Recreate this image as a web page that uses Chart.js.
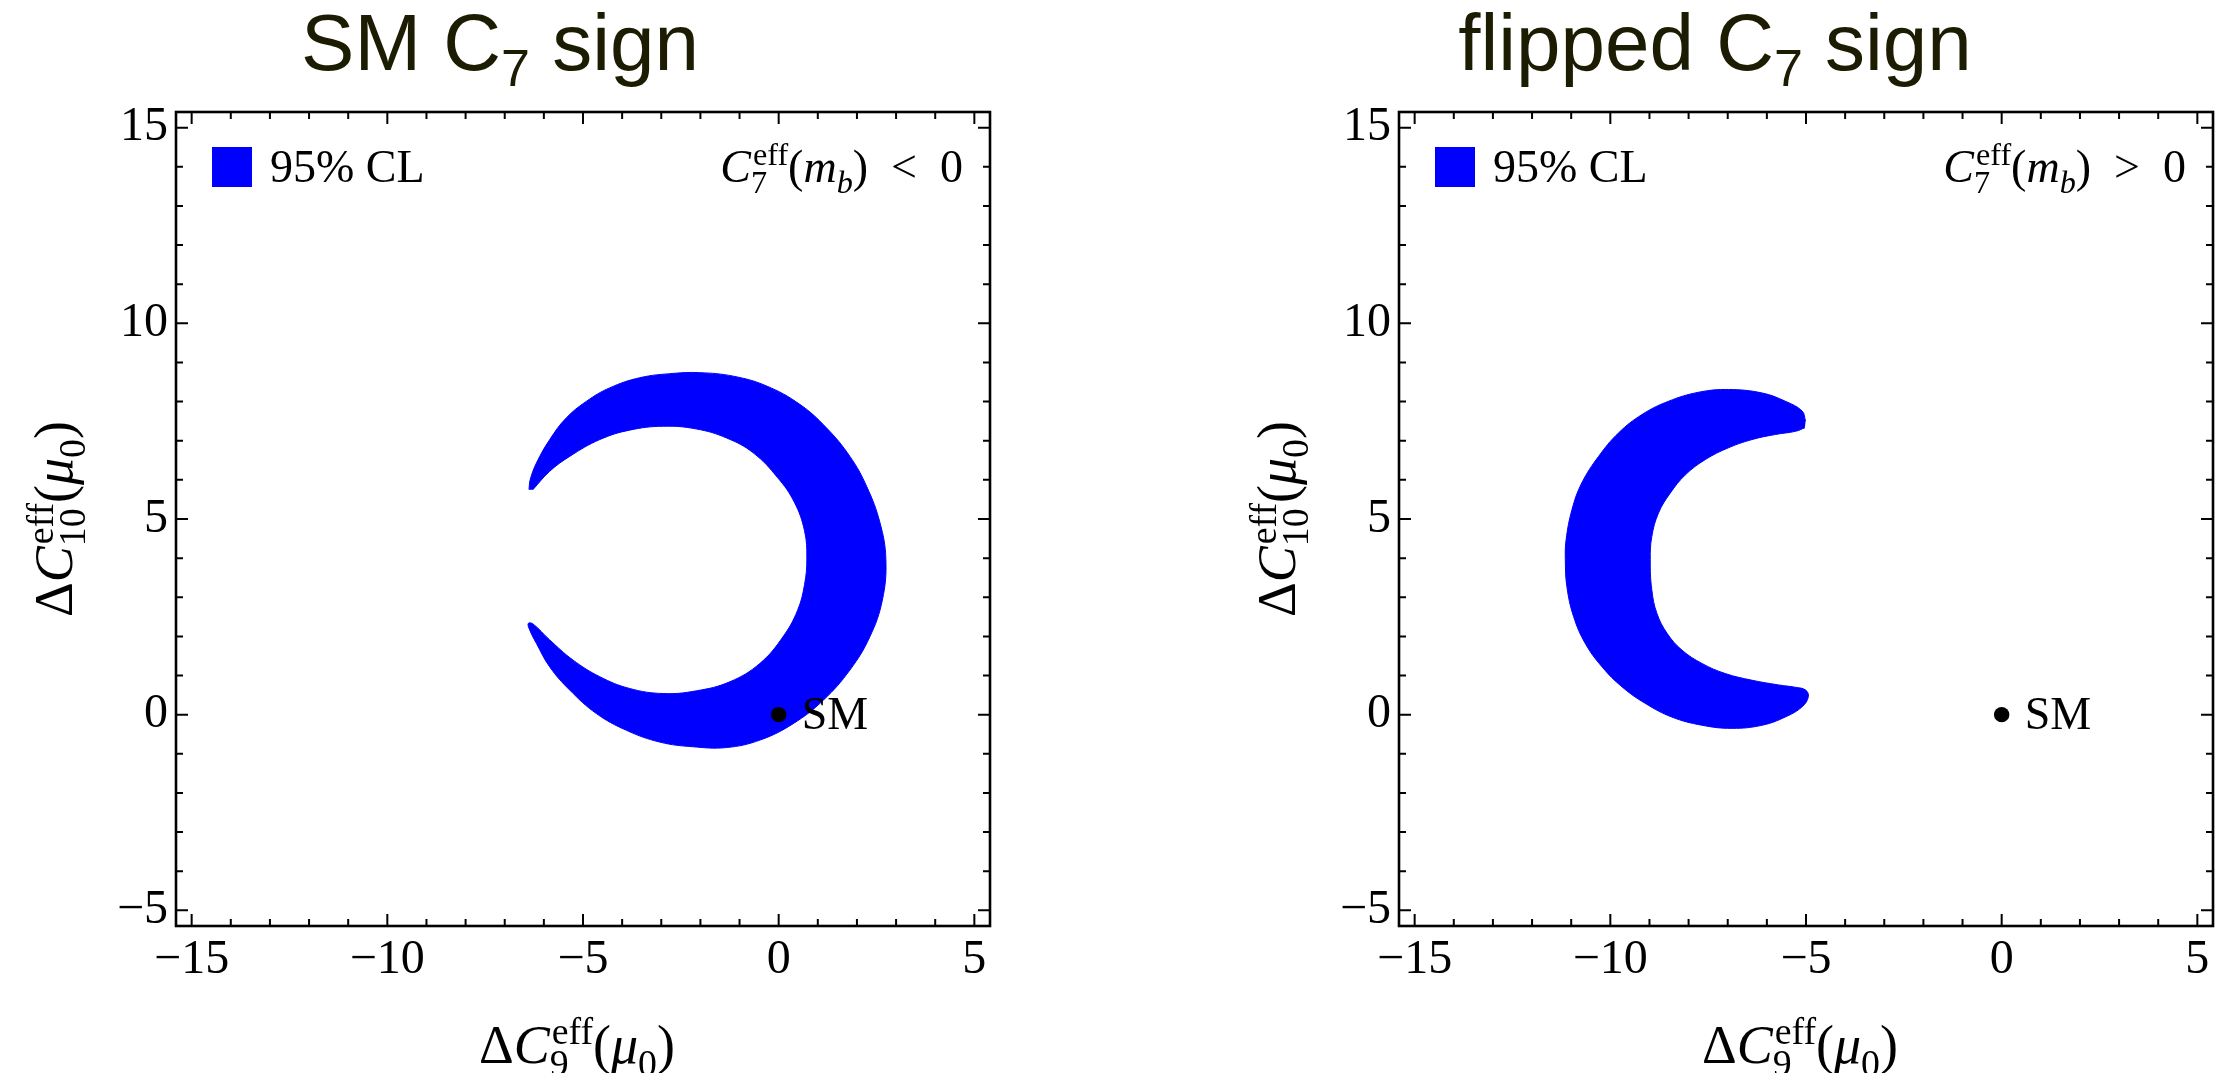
<!DOCTYPE html>
<html>
<head>
<meta charset="utf-8">
<script src="https://cdn.jsdelivr.net/npm/chart.js@4.4.0/dist/chart.umd.min.js"></script>
<style>
  html, body { margin: 0; padding: 0; background: #fff; }
  #wrap { position: relative; width: 2231px; height: 1073px; }
  .panel { position: absolute; top: 0; height: 1073px; }
  #left { left: 0; width: 1115px; }
  #right { left: 1115px; width: 1116px; }
</style>
</head>
<body>
<div id="wrap">
  <div class="panel" id="left"><canvas id="smChart"></canvas></div>
  <div class="panel" id="right"><canvas id="flipChart"></canvas></div>
</div>
<script>
// axis ranges and tick labels
const xRange = [-15.4, 5.4];
const yRange = [-5.4, 15.4];
const xTicks = [-15, -10, -5, 0, 5];
const yTicks = [-5, 0, 5, 10, 15];

// Standard Model point
const smPoint = [{ x: 0, y: 0 }];

// 95% CL region, SM sign of C7 (outer edge, then inner edge back)
const smRegionX = [-6.38, -6.35, -6.19, -5.85, -5.43, -4.91, -4.32, -3.55, -2.70, -2.02, -1.16, -0.31, 0.54, 1.22, 1.82, 2.25, 2.59, 2.74, 2.65, 2.33, 1.82, 1.14, 0.37, -0.48, -1.33, -2.19, -3.04, -3.89, -4.66, -5.34, -5.85, -6.19, -6.36, -6.40,
  -6.28, -5.85, -5.26, -4.57, -3.81, -2.95, -2.10, -1.25, -0.48, 0.11, 0.48, 0.66, 0.72, 0.66, 0.40, -0.03, -0.65, -1.33, -2.10, -2.95, -3.81, -4.57, -5.34, -5.85, -6.28];
const smRegionY = [5.75, 6.00, 6.43, 7.03, 7.58, 8.01, 8.35, 8.61, 8.72, 8.74, 8.65, 8.40, 7.93, 7.33, 6.60, 5.83, 4.90, 3.96, 2.93, 1.99, 1.14, 0.37, -0.23, -0.65, -0.84, -0.82, -0.70, -0.40, 0.03, 0.63, 1.22, 1.82, 2.16, 2.33,
  2.32, 1.91, 1.40, 0.97, 0.67, 0.54, 0.61, 0.84, 1.31, 1.99, 2.66, 3.32, 4.00, 4.70, 5.43, 6.06, 6.69, 7.07, 7.30, 7.37, 7.27, 7.03, 6.60, 6.22, 5.75];

// 95% CL region, flipped sign of C7
const flipRegionX = [-5.01, -5.10, -5.53, -6.12, -6.98, -7.74, -8.51, -9.19, -9.79, -10.30, -10.73, -10.98, -11.13, -11.15, -11.11, -10.94, -10.64, -10.21, -9.70, -9.11, -8.43, -7.66, -6.89, -6.12, -5.53, -5.10, -4.94,
  -5.01, -5.27, -5.70, -6.38, -7.06, -7.66, -8.17, -8.55, -8.81, -8.94, -8.98, -8.94, -8.77, -8.47, -8.08, -7.57, -6.98, -6.38, -5.78, -5.27, -5.03];
const flipRegionY = [7.50, 7.76, 8.01, 8.22, 8.31, 8.24, 8.01, 7.67, 7.20, 6.60, 5.92, 5.24, 4.47, 3.96, 3.27, 2.51, 1.82, 1.22, 0.71, 0.29, -0.06, -0.27, -0.35, -0.27, -0.06, 0.20, 0.46,
  0.63, 0.70, 0.76, 0.88, 1.05, 1.31, 1.65, 2.08, 2.59, 3.19, 3.96, 4.55, 5.15, 5.66, 6.13, 6.52, 6.82, 7.03, 7.16, 7.24, 7.33];

const BLUE = '#0000ff';
const SERIF = '"Liberation Serif", "Times New Roman", serif';
const SANS = '"Liberation Sans", Arial, sans-serif';

function toPoints(xs, ys) {
  return xs.map((x, i) => ({ x: x, y: ys[i] }));
}

function fmtTick(v) {
  return v < 0 ? '\u2212' + Math.abs(v) : String(v);
}

// text with stacked super/subscripts, e.g. C^eff_7
function drawRich(ctx, parts, x, y, o) {
  const s = o.size, ss = s * (o.scriptScale || 0.7);
  const items = [];
  let w = 0;
  for (const p of parts) {
    ctx.font = (p.i ? 'italic ' : '') + s + 'px ' + o.family;
    const mw = ctx.measureText(p.t).width;
    let sw = 0;
    if (p.sup) {
      ctx.font = ss + 'px ' + o.family;
      sw = Math.max(sw, ctx.measureText(p.sup).width + (p.supShift || 0));
    }
    if (p.sub) {
      ctx.font = (p.subI ? 'italic ' : '') + ss + 'px ' + o.family;
      sw = Math.max(sw, ctx.measureText(p.sub).width + (p.subShift || 0));
    }
    items.push({ p: p, at: w, mw: mw });
    w += mw + sw;
  }
  const x0 = o.align === 'right' ? x - w : o.align === 'center' ? x - w / 2 : x;
  ctx.textAlign = 'left';
  ctx.textBaseline = 'alphabetic';
  for (const it of items) {
    const p = it.p, px = x0 + it.at;
    ctx.font = (p.i ? 'italic ' : '') + s + 'px ' + o.family;
    ctx.fillText(p.t, px, y);
    if (p.sup) {
      ctx.font = ss + 'px ' + o.family;
      ctx.fillText(p.sup, px + it.mw + (p.supShift || 0), y - s * o.supRise);
    }
    if (p.sub) {
      ctx.font = (p.subI ? 'italic ' : '') + ss + 'px ' + o.family;
      ctx.fillText(p.sub, px + it.mw + (p.subShift || 0), y + s * o.subDrop);
    }
  }
  return w;
}

const mathOpts = { size: 54, family: SERIF, supRise: 0.36, subDrop: 0.24, scriptScale: 0.7, align: 'center' };
const noteOpts = { size: 46, family: SERIF, supRise: 0.36, subDrop: 0.24, scriptScale: 0.7 };
const titleOpts = { size: 80, family: SANS, supRise: 0.4, subDrop: 0.2, scriptScale: 0.65, align: 'center' };

// frame with inward major/minor ticks on all four sides
const frameTicks = {
  id: 'frameTicks',
  afterDatasetsDraw(chart) {
    const ctx = chart.ctx;
    const { left, right, top, bottom } = chart.chartArea;
    const xs = chart.scales.x, ys = chart.scales.y;
    ctx.save();
    ctx.strokeStyle = '#000';
    ctx.lineWidth = 2;
    ctx.beginPath();
    for (let v = xTicks[0]; v <= xTicks[xTicks.length - 1]; v++) {
      const len = v % 5 === 0 ? 12 : 7;
      const px = xs.getPixelForValue(v);
      ctx.moveTo(px, bottom); ctx.lineTo(px, bottom - len);
      ctx.moveTo(px, top); ctx.lineTo(px, top + len);
    }
    for (let v = yTicks[0]; v <= yTicks[yTicks.length - 1]; v++) {
      const len = v % 5 === 0 ? 12 : 7;
      const py = ys.getPixelForValue(v);
      ctx.moveTo(left, py); ctx.lineTo(left + len, py);
      ctx.moveTo(right, py); ctx.lineTo(right - len, py);
    }
    ctx.stroke();
    ctx.lineWidth = 2.6;
    ctx.strokeRect(left, top, right - left, bottom - top);
    ctx.restore();
  }
};

// titles, axis labels, legend and annotations
function decor(cfg) {
  return {
    id: 'decor',
    afterDraw(chart) {
      const ctx = chart.ctx;
      const { left, right, top, bottom } = chart.chartArea;
      const xs = chart.scales.x, ys = chart.scales.y;
      ctx.save();

      ctx.fillStyle = '#1c1c02';
      drawRich(ctx, cfg.title, (left + right) / 2 - 83 + cfg.titleShift, 70, titleOpts);

      ctx.fillStyle = '#000';
      // x axis label
      drawRich(ctx, [{ t: '\u0394' }, { t: 'C', i: true, sup: 'eff', sub: '9', supShift: 2 },
        { t: '(' }, { t: '\u03bc', i: true, sub: '0' }, { t: ')' }],
        (left + right) / 2 - 6, bottom + 137, mathOpts);
      // y axis label
      ctx.save();
      ctx.translate(left - 104, (top + bottom) / 2);
      ctx.rotate(-Math.PI / 2);
      drawRich(ctx, [{ t: '\u0394' }, { t: 'C', i: true, sup: 'eff', sub: '10', supShift: 2 },
        { t: '(' }, { t: '\u03bc', i: true, sub: '0' }, { t: ')' }], 0, 0, mathOpts);
      ctx.restore();

      // legend swatch
      ctx.fillStyle = BLUE;
      ctx.fillRect(left + 36, top + 35, 40, 40);
      ctx.fillStyle = '#000';
      drawRich(ctx, [{ t: '95% CL' }], left + 94, top + 70, noteOpts);

      // sign condition
      drawRich(ctx, [{ t: 'C', i: true, sup: 'eff', sub: '7', supShift: 2 }, { t: '(' },
        { t: 'm', i: true, sub: 'b', subI: true }, { t: ')' }, { t: '\u2002' + cfg.rel + '\u20020' }],
        right - 27, top + 70, Object.assign({}, noteOpts, { align: 'right' }));

      // SM label next to the point
      const px = xs.getPixelForValue(smPoint[0].x), py = ys.getPixelForValue(smPoint[0].y);
      drawRich(ctx, [{ t: 'SM' }], px + 23, py + 14, noteOpts);

      ctx.restore();
    }
  };
}

function makePanel(id, cfg) {
  return new Chart(document.getElementById(id), {
    type: 'scatter',
    data: {
      datasets: [
        {
          data: toPoints(cfg.xs, cfg.ys),
          order: 2,
          showLine: true,
          fill: 'shape',
          backgroundColor: BLUE,
          borderColor: BLUE,
          borderWidth: 1,
          pointRadius: 0,
          tension: 0.4
        },
        {
          data: smPoint,
          order: 1,
          pointRadius: 7.7,
          pointBackgroundColor: '#000',
          pointBorderWidth: 0
        }
      ]
    },
    options: {
      responsive: true,
      maintainAspectRatio: false,
      animation: false,
      layout: { padding: { left: cfg.padLeft, right: cfg.padRight, top: 112, bottom: 67 } },
      plugins: { legend: { display: false }, tooltip: { enabled: false } },
      scales: {
        x: {
          type: 'linear', min: xRange[0], max: xRange[1],
          grid: { display: false, drawTicks: false },
          border: { display: false },
          afterBuildTicks: s => { s.ticks = xTicks.map(v => ({ value: v })); },
          afterFit: s => { s.height = 80; },
          ticks: { color: '#000', font: { family: SERIF, size: 48 }, padding: 6, maxRotation: 0, autoSkip: false, callback: fmtTick }
        },
        y: {
          type: 'linear', min: yRange[0], max: yRange[1],
          grid: { display: false, drawTicks: false },
          border: { display: false },
          afterBuildTicks: s => { s.ticks = yTicks.map(v => ({ value: v })); },
          afterFit: s => { s.width = 70; },
          ticks: { color: '#000', font: { family: SERIF, size: 48 }, padding: 8, autoSkip: false, callback: fmtTick }
        }
      }
    },
    plugins: [frameTicks, decor(cfg)]
  });
}

makePanel('smChart', {
  xs: smRegionX, ys: smRegionY, padLeft: 106, padRight: 125, rel: '<', titleShift: 0,
  title: [{ t: 'SM ' }, { t: 'C', sub: '7' }, { t: ' sign' }]
});
makePanel('flipChart', {
  xs: flipRegionX, ys: flipRegionY, padLeft: 214, padRight: 18, rel: '>', titleShift: -8,
  title: [{ t: 'flipped ' }, { t: 'C', sub: '7' }, { t: ' sign' }]
});
</script>
</body>
</html>
